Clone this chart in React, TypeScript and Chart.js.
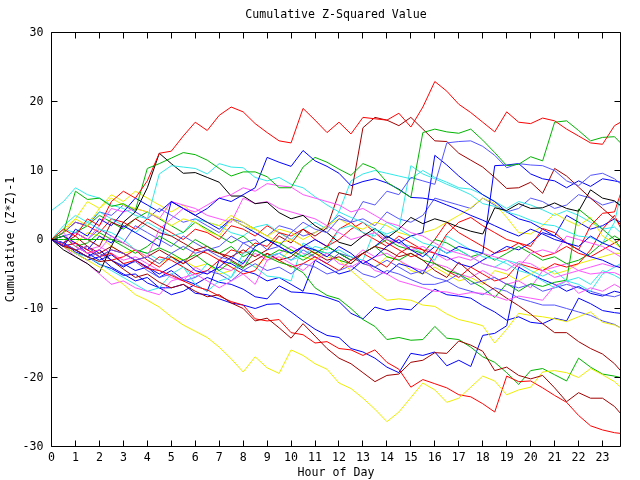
import React, { useEffect, useRef } from "react";
import { Chart, registerables } from "chart.js";

Chart.register(...registerables);

const HOURS = [0,0.5,1,1.5,2,2.5,3,3.5,4,4.5,5,5.5,6,6.5,7,7.5,8,8.5,9,9.5,10,10.5,11,11.5,12,12.5,13,13.5,14,14.5,15,15.5,16,16.5,17,17.5,18,18.5,19,19.5,20,20.5,21,21.5,22,22.5,23,23.5,23.75];
const X_TICKS = [0,1,2,3,4,5,6,7,8,9,10,11,12,13,14,15,16,17,18,19,20,21,22,23];
const Y_TICKS = [-30,-20,-10,0,10,20,30];

const R1 = [0,1.5,0.5,3,2,5.5,7,6,8.5,12.5,12.8,15,17,15.8,18,19.2,18.5,16.8,15.5,14.3,14,19,17.3,15.5,17,15.3,17.7,17.5,17.3,18.3,16.3,19.2,22.9,21.5,19.6,18.4,17,15.6,18.5,17,16.8,17.6,17.2,16,15,14,13.8,16.5,17];
const R2 = [0,-0.8,-1.5,-1,-2.5,-2,-3.5,-3,-4.2,-4.5,-5.2,-6,-6.8,-7.3,-8.2,-9,-9.5,-11.5,-11.8,-11.6,-13.5,-13.8,-15,-14.8,-15.8,-16,-16.8,-16,-17.8,-18.8,-21.4,-20.3,-20.9,-21.5,-22.5,-22.8,-23.8,-25,-19.8,-20.6,-20.5,-21.5,-22.6,-23.6,-25.5,-27,-27.6,-28,-28.1];
const R3 = [0,-1,-0.5,-1.5,-2.5,-1.5,-2,-3,-4,-2.5,-3,-4,-5,-4.5,-3,-4,-5,-4.5,-2,-3,-4,-3.5,-2.5,-3.5,-4.5,-3,-2,-3,-4,-2,-1,-1.5,-2,0.8,2.5,3.2,2,1,0,-0.5,-1,1.6,1,-0.5,-1.5,2,3.8,4,6.6];
const R4 = [0,0.5,-1,-2,-1.5,-3,-2.5,-1.5,-3,-4,-2.5,-3.5,-1.5,-2,-3,-1.5,-2,-0.5,-1,1,0.5,1.5,0,-1,1.5,2.5,1,0,-1,0.5,-0.5,-1.5,-3.5,-4.5,-5.5,-4,-5,-6,-5.5,-3.5,-4,-4.5,-3.5,-4,-3.5,-1.5,1.5,3.5,1.7];
const R5 = [0,1,2.5,2,1,3,2.5,1.5,3,2,1,0,1.5,1,0,2,1.5,0.5,2,1,0,-1,-2,-1,0,1.5,2.5,1,-0.5,-1.5,-2.5,-2,0,2.5,1,0,-1,-2,-1.5,-0.5,-1.5,-2.5,-2,-1,-2,-2.5,-1.5,-0.5,0];
const G1 = [0,1,7,5.8,6,4.8,5.2,4.2,10.3,11,11.8,12.6,12.3,11.5,10.3,9.2,9.8,9.8,9.1,7.5,7.5,10.5,11.9,11.2,10.2,9.3,11,10.3,8.3,7.2,6.1,15.5,16,15.6,15.4,16,14.4,12.6,10.7,10.9,12,11.4,17,17.2,15.8,14.3,14.8,14.9,14];
const G2 = [0,0,0,0,0,0,-0.5,-1.5,-2,-1.2,-2,-3,-2.2,-3.5,-4.5,-3.2,-4.2,-1.5,-2.5,-3.3,-3.8,-4.8,-7,-8.1,-8.6,-10,-11.6,-12.6,-14.5,-14.2,-14.6,-14.5,-12.6,-14.3,-14.5,-15.6,-17,-17.8,-19.3,-21,-19,-18.7,-19.6,-20.5,-17.2,-18.5,-19.5,-19.8,-20];
const G3 = [0,0.5,-1,-0.5,1,0,-1,-2,-1,0.5,-0.5,-1.5,0,-1,-2,-1,-2.5,-1.5,-2.5,-1.5,-2,-3,-2,-1,-2,-3,-2,-1,-2.5,-3,-2,-3,-3.5,-4.5,-5,-6,-7,-8.4,-6.4,-7.5,-6.4,-6.8,-6.2,-5.9,4.4,3,1.5,0,-1.2];
const G4 = [0,-0.5,1,2,3.5,2.5,1.5,3,4,3,2,1,2.5,1.5,0.5,-0.5,0.5,-1,0,-0.5,-1.5,-2.5,-1.5,-2,-3,-3.5,-2,-1,0,-1,-1.5,-2,0,-0.5,-1.5,-2.5,-2,-3,-2,-1,-2,-3,-2.5,-3.5,-3,-2,-0.5,0.5,0];
const K1 = [0,-1.5,-2.5,-3.5,-4.8,-1,2.5,4,7.5,12.5,11,9.6,9.7,9,8.3,6.3,6.3,5.2,5.4,3.9,3,3.5,2,1,-0.4,-0.9,0.5,1.6,0.2,1.5,3.2,2.3,3,2.5,1.8,1.2,0.8,4.6,4.2,5.2,4.5,4.6,5.3,4.5,4.1,7.2,6,5.6,4.9];
const Y1 = [0,-1,-2,-3,-4,-5.3,-6.5,-8,-8.8,-9.8,-11.2,-12.4,-13.3,-14.2,-15.6,-17.3,-19.2,-17,-18.6,-19.4,-16,-16.8,-18,-18.8,-20.8,-21.6,-23,-24.6,-26.4,-25,-22.9,-20.8,-21.8,-23.6,-23,-21.4,-19.8,-20.5,-22.5,-21.8,-21.4,-19.2,-19,-19.3,-20,-18.7,-19.6,-20.6,-21.4];
const Y2 = [0,1,3,5.5,4.5,6,5,4.5,4,3.2,2,3,2.5,1.2,0.5,3,2,1.5,0.5,-0.5,0,-1,-2,-2.5,-3,-4.5,-6,-7.5,-8.8,-8.6,-8.8,-9.5,-9.7,-10.8,-11.6,-12,-12.5,-15,-13,-10.7,-11,-11.2,-11.5,-11.9,-11.2,-10.5,-12,-12.4,-12.8];
const Y3 = [0,1.5,3,2,4.5,6.5,5.5,7,6,5,4,5,3.5,2.5,2,3.5,2.5,1.5,0.5,1.5,1,0,1,2,3,2,1.5,2.5,2,1,0.5,1,1.5,2.5,3.5,4.6,6,5.2,3.2,1,0.8,2,3.8,2.8,2,3.2,0.5,-0.5,-1.2];
const Y4 = [0,0.5,-0.5,1,0.5,-1,-2,-1.5,-2.5,-3.5,-2.5,-3,-4,-3.5,-5,-4.5,-3,-4,-2.5,-3,-1.5,-2.5,-3,-1,-2,-2.5,-3.5,-4,-2.5,-3,-4.5,-5,-4,-5,-6,-5.5,-6.5,-4.5,-5,-6,-5,-4,-5,-4.5,-3.5,-3,-2.5,-2,-2];
const DR1 = [0,-1,-1.5,-2.5,-3.2,-3,-4.3,-5.5,-5,-6.2,-7,-6.5,-7.5,-8.3,-8,-9.2,-10,-11.8,-11.4,-12.8,-14.3,-12.2,-14,-15.8,-17.2,-18,-19.3,-20.6,-19.7,-19.5,-17.8,-17.5,-16.4,-16.5,-14.7,-15.3,-16.2,-19,-18.5,-19.7,-20.2,-19.7,-21.5,-23.5,-22.2,-23,-23,-24.2,-25.2];
const DR2 = [0,-0.5,0.5,-1,-2,-1,-2,-3,-2.5,-1.5,-2.5,-3.5,-2.5,-1.5,-2,-3,-4,-3,-2,-3,-2.5,-1,-2,-3,-2.5,-3.5,-2,-1,-1.5,-2.5,-2,-3,-4.5,-5.5,-3.3,-4.8,-6.2,-7.3,-8.5,-9.6,-10.8,-12.2,-13.5,-13.5,-14.8,-15.8,-16.6,-18,-19];
const DR3 = [0,-0.5,1,0,-1,2.5,1.8,3,2,1,0.5,-0.5,-1.5,-1,-2,-2.5,-1.5,-2.5,-1.5,0.5,-0.5,1.5,0.5,1.7,6.8,6.4,16.2,17.7,17.3,16.5,17.7,16,14.3,14.2,12.5,11.5,10.5,9,7.4,7.5,8.3,6.7,10.3,9.2,7.6,6,4.5,3,2.2];
const BL1 = [0,-1,-0.5,-2,-3,-2.2,-3.5,-4.5,-4,-5.5,-4.5,-5.8,-6.5,-5.5,-6.2,-6.5,-7.2,-8.3,-8.6,-6.7,-7.6,-7.7,-7.9,-8.4,-9,-10.7,-11.5,-9.8,-10.3,-10,-10.2,-8.6,-7.2,-8,-8.2,-8.5,-9.6,-10.5,-11.7,-11.2,-12,-12.2,-11.4,-11.8,-8.5,-9.3,-10.3,-10.6,-10.7];
const BL2 = [0,-0.5,-1.8,-2.5,-3.6,-4.2,-5.2,-5,-6.3,-7,-7,-6.5,-7.8,-8,-8.6,-9.2,-9.5,-10,-9.4,-9.3,-10.5,-11.8,-13,-13.9,-14.2,-15.8,-16.3,-17.2,-18.5,-19.3,-16.5,-16.8,-16.3,-18.3,-17.5,-18.4,-13.9,-13.6,-12.5,-4,-5,-5.8,-6.5,-7.5,-6.8,-7.8,-8.2,-7.5,-7.7];
const B1 = [0,-1,1.5,0.5,3,2,4,6,5,4,5.5,4.5,3.5,4.5,6,5.5,6.5,7.5,11.9,11.2,10.6,12.9,11.4,10.6,9.6,7.8,8.4,8.8,8.2,7.3,6.1,6,5.7,5,4.3,3.5,2.8,2,1.2,0.5,1.5,0.8,0,-0.5,-1,0.5,-0.5,-1.2,-1.6];
const B2 = [0,-0.5,-1.5,-2.5,-1.5,-3,-4,-3,-4,-5,-4,-3,-4.5,-5,-4,-2.5,-3.5,-1,0,-1,-2,-1,-1.5,-2.5,-1,-2,-3.5,-2.5,-1,0,-1.5,-2.5,-1,-2,-1,-1.5,-2,10.7,10.8,11,9.5,8.8,8.5,7.5,8.5,7.7,8.8,8.5,8.3];
const B3 = [0,0.5,-0.5,-1.5,0.5,-0.5,2,1,0,-1,5.5,4.5,3.5,2.5,1.5,3,2,1,0,-1,-2,-1,0,-1,-2,-3,-2,-1,0.5,-0.5,0.5,1,12.2,10.8,9.2,7.8,6.5,5.5,4,3,2.5,1.5,0.5,-0.5,-1.5,-2.5,-3,-3.8,-4.1];
const B4 = [0,-1,-2,-3,-2.5,-4,-5,-6,-5.5,-7,-8,-7.5,-6.5,-7.5,-3,-3.5,-4.5,-5,-6,-5.5,-6.5,-7.5,-3,-4,-5,-4.5,-3,-4,-5,-3.5,-4,-5,-2,-2.5,-3.5,-4,-3,-2,-1,-1.5,-0.5,1,0.5,3.5,2.5,1.5,2,3,2.5];
const C1 = [4.2,5.5,7.5,6.5,6,5,4.5,3.5,3,9.5,10.7,10.5,10.3,9.5,11,10.5,10.4,9,8.5,9,8,7.5,6.2,5,4,3.2,2.5,1.5,0.8,1.5,0.5,-0.5,-1,-2,-1.5,-2.5,-3.5,-4,-3,-3.5,-4.5,-5.3,-4.5,-6,-5.5,-6.5,-4.5,-5.2,-5.7];
const C2 = [0,-1,-2,-2.5,-3.5,-4.5,-5.5,-6.5,-7.5,-7,-5,-4,-6.5,-7.5,-6,-5.5,-2,-1.5,-2.5,-2,-3,-2.3,-1,-1.5,1.5,2,1,0.5,2.5,1.5,10.7,9.5,8.8,8,7.3,6.5,5.2,4.8,4,3.5,2.8,2.2,2,1.2,0.5,0.3,-0.5,2.5,6.4];
const C3 = [0,1.5,1,2.5,1.5,1,0,-1.5,-2,-3,-2.5,-4,-5.5,-3.5,-4.5,-5.5,-3,-4,-5.3,-5.5,-6,-0.5,-1.5,-2,-1.5,-2.5,-3,1.5,0.5,-0.5,-1,-2,-3,0.5,-0.5,-1.5,-2.5,-2.8,-3.5,-4.5,-5,-6,-7,-6,-6.5,-7.5,-5,-4,-3.5];
const C4 = [0,2,3.5,2.5,4,3,2,1,2.5,1.5,0.5,1,3,2.5,2,1,0.5,1.8,2.2,1,0,1.5,2.5,1.5,4,8.5,9.5,10,9.6,9.2,8.8,10,9,8.3,7.5,7.3,6.5,5.5,4.5,5.5,5,4.3,3.5,4.2,3.5,2.5,1.5,1.8,1];
const M1 = [0,1,-1,-2,-1.5,0.5,-0.5,-1.5,-2.5,1.5,3,4.5,4,5,6,6.5,7.5,7,8.1,7.8,7.6,6.5,6,5.5,5,4,4.5,3.5,2.5,2,1,0.5,-0.5,-1.5,-2,-2.5,-3.5,-4,-4.5,-3.2,-3.5,-4.5,-5.5,-5,-4.5,-5,-4.8,-4.8,-5.2];
const M2 = [0,-1,-2.5,-3.5,-5,-6.5,-6,-7,-7.5,-8,-6,-5.5,-5,-6,-7,-6,-5,-6.5,-3,-2.5,-3.5,-4.5,-3,-2,-3.5,-4,-3,-4.5,-5,-6,-6.5,-7,-7.5,-7.6,-8,-7.7,-7.8,-8.2,-8.8,-8.2,-8.5,-8.8,-6.7,-6,-7.8,-7,-7.5,-6.5,-7];
const M3 = [0,-0.5,1,0,2,4.5,4,4.5,4,3,5.5,5,4.5,3.5,3,2.5,6,5.2,5.5,4.5,4,3.5,3,2,1,0,0.5,1,0,-0.5,-1.5,-1,-2,-3,-2.5,-3,-2,-2.5,-3,-4,-2,-1.5,-2,0.5,0,-0.5,-1,-2,-2.5];
const M4 = [0,0.5,-0.5,-1.5,-1,-2,-3,-2.5,-3.5,-4.5,-5.5,-6,-4,-5,-4,-4.5,-3.5,-2,-3,-2,-1,-2,-2.5,-3.5,-2,-3,-1.5,-2.5,-2,-3,-4,-4.5,-3.5,-4,-5,-5.5,-4.5,-5.5,-6.5,-6,-7,-4.5,-4,-3.5,-4.5,-4,-3.5,-4,-3.8];
const S1 = [0,-0.5,-1.5,-1,-2.5,-1.5,-2,-3,-2.5,-3.5,-2,-1,-2,-1.5,-2.5,-3,-0.5,0,-1.5,-1,1,2.5,1.5,1,3,2.5,5.5,5,7,6.5,9,8.5,8,14,14.2,14.3,13.5,12.2,10.4,11,10.8,10.7,10,8.5,7.8,9.3,9.6,8.8,8.1];
const S2 = [0,-0.5,-1.5,-2.5,-2,-3,-3.8,-3.2,-4.5,-5.5,-5,-6,-5.5,-4.5,-5,-6,-4.5,-3.5,-4.5,-4,-5,-3.5,-4,-5,-4.5,-3.8,-5,-5.5,-4.5,-5,-5.8,-6.5,-6.5,-6,-7,-7.5,-8,-7,-7.5,-8.5,-9,-9.5,-9.5,-10,-10.5,-11,-11.8,-12.3,-12.8];
const S3 = [0,0.5,1,0,1.5,0.5,-0.5,2,1,0,-1,0.5,-0.5,-1.5,-1,0.5,-0.5,-1.5,-2.5,-2,-3,-1.5,-2.5,-3.5,-2,-2.5,-3.5,-4,-3,-4,-5,-4.5,-5.5,-6,-5,-6.5,-6,-5.5,-6.5,-7,-6.5,-7.5,-7,-6.5,-7,-7.5,-8,-8.3,-8];
const S4 = [0,1,2.5,2,4,3.5,5,4,3,4.5,3.5,2.5,3,2,1,3,2.5,1.5,0.5,2,1.5,0.5,1,2,3.5,2.5,3,2,4,3,2.5,3.5,6,5.5,5,4.5,6,5,4,4.5,6,5.5,4.5,5,6.5,6,5,5.5,5];

const RED = "#ff0000";
const GREEN = "#00b400";
const BLUE = "#0000ff";
const MAGENTA = "#ff55ff";
const CYAN = "#33e8e8";
const DARKRED = "#a00000";
const YELLOW = "#eeee00";
const SLATE = "#5555ff";
const BLACK = "#000000";

const SERIES: [string, string, number[]][] = [
  ["R1", RED, R1], ["G1", GREEN, G1], ["B1", BLUE, B1], ["M1", MAGENTA, M1], ["C1", CYAN, C1],
  ["DR1", DARKRED, DR1], ["Y1", YELLOW, Y1], ["S1", SLATE, S1], ["K1", BLACK, K1],
  ["R2", RED, R2], ["G2", GREEN, G2], ["B2", BLUE, B2], ["M2", MAGENTA, M2], ["C2", CYAN, C2],
  ["DR2", DARKRED, DR2], ["Y2", YELLOW, Y2], ["S2", SLATE, S2],
  ["R3", RED, R3], ["G3", GREEN, G3], ["B3", BLUE, B3], ["M3", MAGENTA, M3], ["C3", CYAN, C3],
  ["DR3", DARKRED, DR3], ["Y3", YELLOW, Y3], ["S3", SLATE, S3],
  ["R4", RED, R4], ["G4", GREEN, G4], ["B4", BLUE, B4], ["M4", MAGENTA, M4], ["C4", CYAN, C4],
  ["BL1", BLUE, BL1], ["Y4", YELLOW, Y4], ["S4", SLATE, S4],
  ["R5", RED, R5], ["BL2", BLUE, BL2],
];

const FONT = { family: "'DejaVu Sans Mono', monospace", size: 11.6, weight: "normal" as const };

const borderPlugin = {
  id: "gnuBorder",
  afterDatasetsDraw(chart: any) {
    const { ctx, chartArea, scales } = chart;
    const snap = (v: number) => Math.round(v - 0.5) + 0.5;
    const l = snap(chartArea.left), r = snap(chartArea.right);
    const t = snap(chartArea.top), b = snap(chartArea.bottom);
    const len = 6;
    ctx.save();
    ctx.strokeStyle = "#000";
    ctx.lineWidth = 1;
    ctx.beginPath();
    ctx.rect(l, t, r - l, b - t);
    X_TICKS.forEach((v) => {
      const p = snap(scales.x.getPixelForValue(v));
      ctx.moveTo(p, b); ctx.lineTo(p, b - len);
      ctx.moveTo(p, t); ctx.lineTo(p, t + len);
    });
    Y_TICKS.forEach((v) => {
      const p = snap(scales.y.getPixelForValue(v));
      ctx.moveTo(l, p); ctx.lineTo(l + len, p);
      ctx.moveTo(r, p); ctx.lineTo(r - len, p);
    });
    ctx.stroke();
    ctx.restore();
  },
};

export default function App() {
  const ref = useRef<HTMLCanvasElement | null>(null);
  useEffect(() => {
    if (!ref.current) return;
    const chart = new Chart(ref.current, {
      type: "line",
      data: {
        datasets: SERIES.map(([label, color, vals]) => ({
          label,
          data: HOURS.map((h, i) => ({ x: h, y: vals[i] })),
          borderColor: color,
          backgroundColor: color,
          borderWidth: 1,
          pointRadius: 0,
          tension: 0,
          fill: false,
        })),
      },
      options: {
        responsive: false,
        animation: false,
        events: [],
        layout: { padding: { left: 0, right: 19.5, top: 0, bottom: 0 } },
        plugins: {
          legend: { display: false },
          tooltip: { enabled: false },
          title: {
            display: true,
            text: "Cumulative Z-Squared Value",
            fullSize: false,
            color: "#000",
            font: FONT,
            padding: { top: 8.5, bottom: 10.1 },
          },
        },
        scales: {
          x: {
            type: "linear",
            min: 0,
            max: 23.75,
            grid: { display: false, drawTicks: false },
            border: { display: false },
            ticks: {
              stepSize: 1,
              includeBounds: false,
              autoSkip: false,
              maxRotation: 0,
              padding: 5,
              color: "#000",
              font: FONT,
            },
            title: { display: true, text: "Hour of Day", color: "#000", font: FONT, padding: { top: 4, bottom: 0 } },
            afterFit: (s: any) => { s.height = 33.5; },
          },
          y: {
            type: "linear",
            min: -30,
            max: 30,
            grid: { display: false, drawTicks: false },
            border: { display: false },
            ticks: { stepSize: 10, padding: 8, color: "#000", font: FONT },
            title: { display: true, text: "Cumulative (Z*Z)-1", color: "#000", font: FONT, padding: { top: 4, bottom: 0 } },
            afterFit: (s: any) => { s.width = 51.5; },
          },
        },
      },
      plugins: [borderPlugin],
    });
    return () => chart.destroy();
  }, []);
  return (
    <div style={{ position: "fixed", left: 0, top: 0, width: 640, height: 480, background: "#fff" }}>
      <canvas ref={ref} width={640} height={480} style={{ display: "block" }} />
    </div>
  );
}
